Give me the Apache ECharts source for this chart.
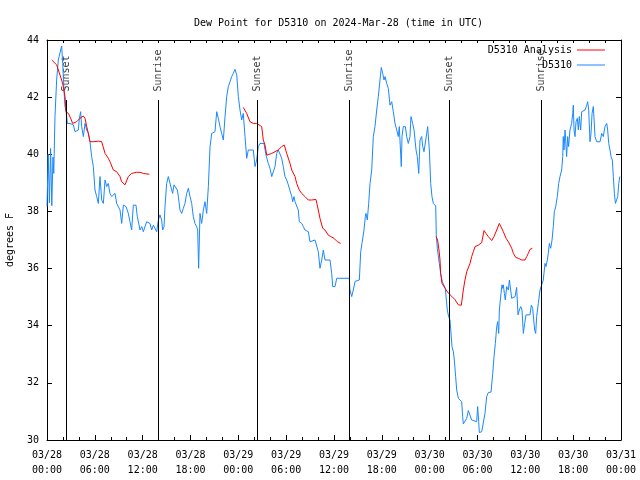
<!DOCTYPE html>
<html>
<head>
<meta charset="utf-8">
<script src="https://cdn.jsdelivr.net/npm/echarts@6/dist/echarts.min.js"></script>
<style>html,body{margin:0;padding:0;background:#fff}#c{width:640px;height:480px}</style>
</head>
<body>
<div id="c"></div>
<script>
// ---- data (hours since 2024-03-28 00:00 UTC) ----
const xTickLabels = ['03/28\n00:00','03/28\n06:00','03/28\n12:00','03/28\n18:00','03/29\n00:00','03/29\n06:00','03/29\n12:00','03/29\n18:00','03/30\n00:00','03/30\n06:00','03/30\n12:00','03/30\n18:00','03/31\n00:00'];
const yTicks = [30,32,34,36,38,40,42,44];

const obsHours = [0,0.15,0.3,0.45,0.6,0.75,0.85,1.0,1.21,1.42,1.71,1.84,1.97,2.13,2.26,2.38,2.55,2.88,3.3,3.51,3.93,4.06,4.22,4.35,4.56,4.77,4.98,5.19,5.39,5.6,5.81,6.02,6.23,6.44,6.65,6.86,7.07,7.28,7.49,7.69,7.9,8.11,8.53,8.74,9.16,9.37,9.58,9.91,10.2,10.41,10.62,10.83,11.16,11.33,11.67,11.88,12.08,12.5,
12.92,13.13,13.34,13.76,13.97,14.17,14.38,14.51,14.68,14.8,15.01,15.22,15.43,15.64,15.76,15.93,16.18,16.35,16.48,16.68,16.9,17.1,17.31,17.52,17.73,17.94,18.15,18.35,18.56,18.77,18.9,19.02,19.19,19.4,19.61,19.82,20.03,20.24,20.45,20.66,21.07,21.29,21.49,21.7,21.91,22.12,22.33,22.54,22.74,22.96,23.17,23.37,23.58,23.8,24.0,24.21,24.42,24.62,24.84,25.05,25.25,25.46,
25.88,26.09,26.3,26.51,26.72,27.22,27.47,27.76,27.97,28.19,28.39,28.6,28.81,29.01,29.23,29.44,29.64,29.85,30.07,30.27,30.48,30.7,30.82,30.98,31.11,31.32,31.52,31.65,31.95,32.15,32.36,32.78,32.99,33.2,33.62,33.83,34.03,34.24,34.46,34.66,34.87,35.5,35.71,35.84,36.13,36.34,37.92,38.0,38.22,38.42,38.64,
39.18,39.35,39.51,39.76,39.93,40.01,40.18,40.35,40.52,40.73,40.93,41.14,41.36,41.56,41.77,41.93,42.11,42.27,42.4,42.61,42.81,43.03,43.24,43.44,43.65,43.87,44.07,44.19,44.37,44.44,44.53,44.69,44.95,45.12,45.32,45.53,45.66,45.87,46.04,46.29,46.45,46.63,46.79,47.0,47.13,47.29,47.45,47.63,47.75,47.96,48.13,48.29,48.46,48.76,48.83,48.96,49.09,49.21,49.38,49.59,49.8,49.96,50.14,50.21,
50.38,50.55,50.76,50.8,50.97,51.09,51.26,51.39,51.6,51.81,52.02,52.14,52.22,52.47,52.65,52.85,53.06,53.27,53.48,53.9,54.02,54.15,54.23,54.53,54.73,54.94,55.15,55.36,55.7,55.91,56.07,56.24,56.41,56.53,56.66,56.74,56.95,57.07,57.16,57.24,57.37,57.49,57.66,57.87,58.0,58.16,58.29,58.5,58.71,58.91,59.0,59.08,59.25,59.42,59.58,59.75,59.92,60.08,60.58,60.75,60.92,61.05,61.17,61.3,61.42,61.63,61.84,62.05,62.25,62.47,
62.59,62.76,62.88,63.01,63.18,63.35,63.51,63.64,63.81,64.01,64.18,64.35,64.56,64.69,64.76,64.85,64.98,65.06,65.18,65.31,65.43,65.6,65.81,65.94,66.02,66.11,66.23,66.36,66.52,66.65,66.77,66.94,67.07,67.27,67.49,67.7,67.82,67.95,68.11,68.24,68.37,68.53,68.74,68.95,69.37,69.58,69.78,69.99,70.21,70.33,70.46,70.62,70.75,70.91,71.04,71.17,71.3,71.47,71.59,71.72,71.85];
const obsValues = [38.17,40.0,38.3,40.2,38.2,39.9,39.33,41.32,42.6,43.3,43.65,43.79,43.18,42.25,41.67,41.55,41.08,41.08,41.03,40.79,40.85,41.26,41.49,40.97,40.62,41.08,40.85,40.73,40.44,39.92,39.57,38.75,38.52,38.28,39.22,38.4,38.28,39.1,38.87,38.98,38.63,38.52,38.63,38.28,38.05,37.58,38.22,38.17,37.93,37.64,37.35,38.22,38.22,37.82,37.35,37.47,37.29,37.64,
37.58,37.35,37.52,37.29,37.7,37.88,37.7,37.35,37.47,38.17,38.98,39.22,39.22,38.75,38.63,38.93,38.87,38.75,38.52,38.05,37.93,38.11,38.28,38.63,38.81,38.52,38.28,37.82,37.58,37.47,37.35,36.01,37.93,37.58,38.05,38.34,37.93,38.87,40.27,40.73,40.79,41.49,41.26,40.97,40.73,40.5,41.32,42.02,42.37,42.54,42.72,42.83,42.97,42.78,42.02,41.55,41.2,41.43,40.62,39.86,40.15,40.21,
40.15,39.57,39.8,40.27,40.38,40.38,39.97,39.68,39.51,39.22,39.22,39.57,40.03,40.15,40.09,39.86,39.57,39.22,39.1,38.93,38.87,38.52,38.34,38.52,38.34,38.28,38.05,37.64,37.58,37.47,37.35,37.29,36.94,36.94,37.0,37.0,36.59,36.01,36.3,36.65,36.3,36.3,35.83,35.37,35.37,35.66,35.66,35.25,35.02,35.25,35.55,
35.6,36.59,36.88,37.35,37.82,37.93,37.7,38.28,38.98,39.45,40.62,40.97,41.55,42.02,42.6,43.04,42.83,42.6,42.72,42.48,42.31,41.72,41.84,41.49,41.08,40.85,40.62,40.97,39.97,39.57,40.62,40.97,40.97,40.62,40.38,40.62,41.32,41.08,40.85,40.15,39.92,39.33,40.5,40.62,40.27,40.09,40.09,40.73,40.97,40.15,38.98,38.52,38.28,38.19,37.18,36.71,36.65,36.18,35.83,35.54,35.48,35.31,35.25,34.55,
34.32,34.2,34.14,33.27,33.09,32.8,32.22,31.75,31.46,31.4,31.34,30.82,30.56,30.56,30.76,31.03,31.03,30.7,30.67,30.64,31.17,30.64,30.26,30.29,30.35,30.93,31.52,31.66,31.68,32.33,32.92,33.38,33.97,34.14,33.73,34.55,35.13,35.43,35.31,35.43,35.13,34.9,35.37,35.25,35.6,35.25,34.96,35.02,35.02,35.34,35.34,34.38,34.55,34.67,34.55,33.73,34.08,34.38,34.38,34.72,34.61,34.2,33.85,33.73,34.32,34.78,35.25,35.31,35.6,36.18,
36.07,36.3,36.53,36.88,36.71,37.0,37.47,37.99,38.17,38.52,38.98,39.22,39.45,39.92,40.62,40.15,40.85,40.5,39.92,40.62,40.27,40.85,41.08,41.43,41.72,40.85,40.62,41.14,41.26,40.85,41.32,40.85,41.49,41.49,41.55,41.72,41.84,41.55,40.44,40.73,41.43,41.67,40.62,40.44,40.44,40.73,40.62,40.97,41.08,40.85,40.38,40.15,39.92,39.8,39.22,38.63,38.28,38.28,38.52,38.98,39.22];

const anaHours1 = [0.59,1.21,1.42,1.84,2.05,2.26,2.38,2.68,2.97,3.22,3.39,3.72,4.14,4.56,4.77,4.98,5.19,5.39,5.81,6.44,6.86,7.28,7.69,7.9,8.32,8.74,9.16,9.37,9.78,10.2,10.62,11.25,11.67,12.08,12.84];
const anaValues1 = [43.3,43.13,43.07,42.6,42.37,42.02,41.49,41.43,41.26,41.08,41.03,41.14,41.26,41.34,41.26,40.97,40.73,40.44,40.44,40.46,40.44,40.03,39.86,39.74,39.45,39.39,39.22,39.04,38.93,39.22,39.33,39.37,39.37,39.33,39.3];
const anaHours2 = [24.62,25.05,25.46,25.88,26.3,26.93,27.13,27.35,27.56,27.76,28.19,28.6,29.01,29.44,29.77,30.07,30.48,30.7,31.11,31.32,31.65,31.95,32.36,32.78,33.2,33.74,34.03,34.24,34.58,34.87,35.29,35.58,36.0,36.42,36.84];
const anaValues2 = [41.64,41.43,41.14,41.08,41.08,40.97,40.5,40.32,39.97,39.97,40.03,40.09,40.15,40.27,40.32,40.03,39.68,39.45,39.22,38.98,38.75,38.63,38.52,38.4,38.4,38.42,38.05,37.76,37.41,37.35,37.17,37.12,37.06,36.94,36.88];
const anaHours3 = [48.8,49.0,49.17,49.3,49.38,49.55,49.71,50.05,50.34,50.76,51.18,51.6,51.97,52.22,52.43,52.65,52.85,53.06,53.27,53.48,53.69,54.11,54.53,54.73,54.82,55.07,55.36,55.78,56.07,56.41,56.74,56.95,57.24,57.58,57.87,58.08,58.29,58.5,58.79,59.12,59.54,59.96,60.17,60.37,60.58,60.88];
const anaValues3 = [37.12,37.0,36.65,36.3,35.83,35.48,35.42,35.26,35.14,35.03,34.91,34.73,34.72,35.25,35.6,35.89,35.95,36.18,36.42,36.59,36.77,36.82,36.91,36.94,37.33,37.23,37.12,36.98,37.12,37.35,37.58,37.56,37.29,37.06,36.94,36.88,36.71,36.53,36.39,36.36,36.3,36.3,36.42,36.53,36.67,36.71];

const sunHours = [2.38,13.96,26.38,37.92,50.43,62.05];
const sunLabels = ['Sunset','Sunrise','Sunset','Sunrise','Sunset','Sunrise'];

// ---- build ----
const FONT = 'DejaVu Sans Mono';
const zip = (h, v) => h.map((x, i) => [x, v[i]]);
const obsData = zip(obsHours, obsValues);
const anaData = [].concat(zip(anaHours1, anaValues1), [['-','-']], zip(anaHours2, anaValues2), [['-','-']], zip(anaHours3, anaValues3));
const LINE_TOP = 41.9;

const chart = echarts.init(document.getElementById('c'), null, {renderer: 'canvas'});
const axisBase = {
  min: 0, max: 72, type: 'value',
  axisLine: {show: true, onZero: false, lineStyle: {color: '#000', width: 1}},
  splitLine: {show: false}
};
const legendBase = {orient: 'vertical', align: 'right', itemWidth: 28, itemHeight: 1, icon: 'rect', right: 30,
  textStyle: {fontFamily: FONT, fontSize: 10, color: '#000'}, selectedMode: false};
chart.setOption({
  animation: false,
  backgroundColor: '#fff',
  title: {
    text: 'Dew Point for D5310 on 2024-Mar-28 (time in UTC)',
    left: 189, top: 13,
    textStyle: {fontFamily: FONT, fontSize: 10, fontWeight: 'normal', color: '#000'}
  },
  legend: [
    Object.assign({}, legendBase, {data: ['D5310 Analysis'], top: 40}),
    Object.assign({}, legendBase, {data: ['D5310'], top: 55})
  ],
  grid: {left: 47, right: 19, top: 40, bottom: 40, containLabel: false, outerBoundsMode: 'none'},
  xAxis: [
    Object.assign({}, axisBase, {
      position: 'bottom', interval: 6,
      axisTick: {show: true, inside: true, length: 5, lineStyle: {color: '#000'}},
      minorTick: {show: true, splitNumber: 3, length: 3, lineStyle: {color: '#000'}},
      axisLabel: {
        fontFamily: FONT, fontSize: 10, color: '#000', lineHeight: 15, margin: 8,
        showMinLabel: true, showMaxLabel: true, hideOverlap: false,
        formatter: v => xTickLabels[Math.round(v / 6)]
      }
    }),
    Object.assign({}, axisBase, {
      position: 'top', interval: 2,
      axisTick: {show: true, inside: true, length: 3, lineStyle: {color: '#000'}},
      axisLabel: {show: false}
    })
  ],
  yAxis: [
    {
      type: 'value', min: 30, max: 44, interval: 2, position: 'left',
      name: 'degrees F', nameLocation: 'middle', nameGap: 32, nameRotate: 90,
      nameTextStyle: {fontFamily: FONT, fontSize: 10, color: '#000'},
      axisLine: {show: true, onZero: false, lineStyle: {color: '#000', width: 1}},
      axisTick: {show: true, inside: true, length: 5, lineStyle: {color: '#000'}},
      axisLabel: {fontFamily: FONT, fontSize: 10, color: '#000', margin: 8,
        formatter: v => String(yTicks[yTicks.indexOf(v)])},
      splitLine: {show: false}
    },
    {
      type: 'value', min: 30, max: 44, interval: 2, position: 'right',
      axisLine: {show: true, onZero: false, lineStyle: {color: '#000', width: 1}},
      axisTick: {show: true, inside: true, length: 5, lineStyle: {color: '#000'}},
      axisLabel: {show: false},
      splitLine: {show: false}
    }
  ],
  series: [
    {
      name: 'sun', type: 'scatter', xAxisIndex: 0, yAxisIndex: 0,
      data: sunHours.map(h => [h, LINE_TOP]),
      symbolSize: 1, itemStyle: {color: 'rgba(0,0,0,0)'}, silent: true, z: 1,
      label: {
        show: true, position: 'top', distance: 8, rotate: 90, align: 'left', verticalAlign: 'middle',
        fontFamily: FONT, fontSize: 10, color: '#000',
        formatter: p => sunLabels[p.dataIndex]
      },
      markLine: {
        silent: true, symbol: 'none', animation: false,
        lineStyle: {color: '#000', width: 1, type: 'solid'},
        label: {show: false},
        data: sunHours.map(h => [{coord: [h, 30]}, {coord: [h, LINE_TOP]}])
      }
    },
    {
      name: 'D5310 Analysis', type: 'line', xAxisIndex: 0, yAxisIndex: 0,
      data: anaData, symbol: 'none', connectNulls: false, z: 3,
      lineStyle: {color: '#ff0000', width: 1}, itemStyle: {color: '#ff0000'}
    },
    {
      name: 'D5310', type: 'line', xAxisIndex: 0, yAxisIndex: 0,
      data: obsData, symbol: 'none', z: 2,
      lineStyle: {color: '#1a88ff', width: 1}, itemStyle: {color: '#1a88ff'}
    }
  ]
});
</script>
</body>
</html>
